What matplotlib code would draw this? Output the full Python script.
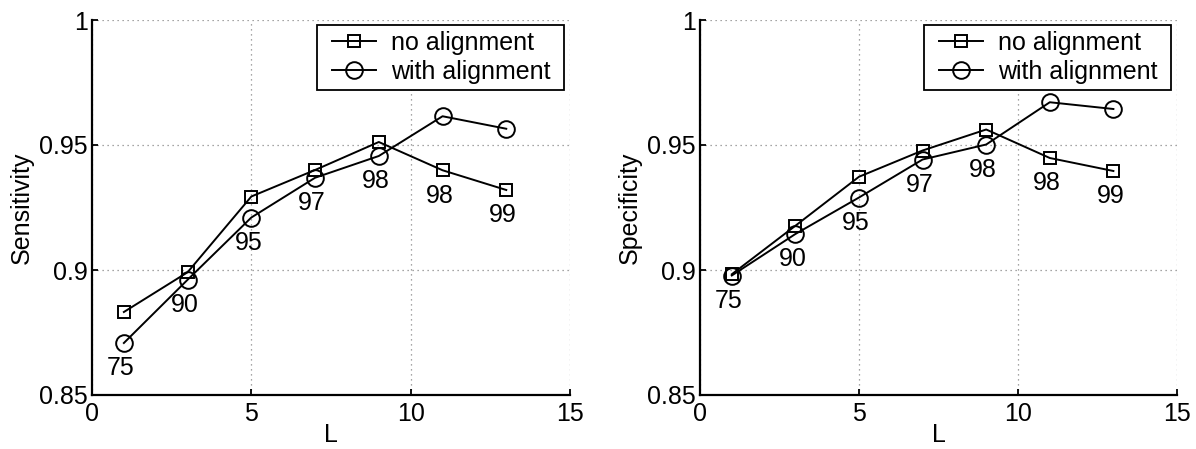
import matplotlib
matplotlib.use("Agg")
import matplotlib.pyplot as plt
from matplotlib.legend_handler import HandlerLine2D
from matplotlib.lines import Line2D

plt.rcParams['font.family'] = ['Liberation Sans', 'DejaVu Sans']

L = [1, 3, 5, 7, 9, 11, 13]
point_labels = ["75", "90", "95", "97", "98", "98", "99"]

sens_no = [0.8832, 0.8991, 0.9294, 0.9400, 0.9512, 0.9399, 0.9320]
sens_with = [0.8708, 0.8961, 0.9210, 0.9369, 0.9456, 0.9615, 0.9565]

spec_no = [0.8983, 0.9177, 0.9373, 0.9478, 0.9562, 0.9448, 0.9396]
spec_with = [0.8978, 0.9144, 0.9290, 0.9442, 0.9502, 0.9671, 0.9644]

series_names = ["no alignment", "with alignment"]

xticks = [0, 5, 10, 15]
yticks = [0.85, 0.9, 0.95, 1.0]
ytick_labels = ["0.85", "0.9", "0.95", "1"]

FS = 18
W, H = 1196, 449
fig = plt.figure(figsize=(W / 100, H / 100), dpi=100)

def make_axes(px_left, px_right, px_top, px_bottom):
    return fig.add_axes([px_left / W, 1 - px_bottom / H,
                         (px_right - px_left) / W, (px_bottom - px_top) / H])

def draw(ax, no_vals, with_vals, ylabel):
    ax.plot(L, no_vals, color='black', lw=1.4, marker='s', ms=9,
            mfc='none', mec='black', mew=1.4, label=series_names[0] + ' ',
            zorder=3)
    ax.plot(L, with_vals, color='black', lw=1.4, marker='o', ms=12,
            mfc='none', mec='black', mew=1.4, label=series_names[1] + ' ',
            zorder=3)
    for x, a, b, t in zip(L, no_vals, with_vals, point_labels):
        ax.annotate(t, xy=(x, min(a, b)), xytext=(-2.2, -18.2),
                    textcoords='offset points', ha='center', va='center',
                    fontsize=FS)
    ax.set_xlim(0, 15)
    ax.set_ylim(0.85, 1.0)
    ax.set_xticks(xticks)
    ax.set_yticks(yticks)
    ax.set_yticklabels(ytick_labels)
    ax.tick_params(direction='in', length=4, width=1.3, labelsize=FS,
                   top=False, right=False)
    ax.tick_params(axis='x', pad=5)
    ax.tick_params(axis='y', pad=3)
    ax.spines['top'].set_visible(False)
    ax.spines['right'].set_visible(False)
    for s in ('left', 'bottom'):
        ax.spines[s].set_linewidth(1.6)
    ax.grid(True, linestyle=(0, (1, 3)), color='#888888', linewidth=0.9)
    ax.set_axisbelow(True)
    ax.set_xlabel('L', fontsize=FS, labelpad=-2)
    ax.set_ylabel(ylabel, fontsize=FS, labelpad=4)
    leg = ax.legend(loc='upper right', bbox_to_anchor=(0.9874, 0.9867),
                    borderaxespad=0, fontsize=FS, frameon=True, fancybox=False,
                    framealpha=1, edgecolor='black', handlelength=2.11,
                    handletextpad=0.6, labelspacing=0.2, borderpad=0.25,
                    handler_map={Line2D: HandlerLine2D(xpad=0.36)})
    leg.get_frame().set_linewidth(1.3)

ax1 = make_axes(92, 570, 20, 395)
draw(ax1, sens_no, sens_with, 'Sensitivity')
ax2 = make_axes(700, 1177, 20, 395)
draw(ax2, spec_no, spec_with, 'Specificity')

fig.savefig('out.png', dpi=100)
